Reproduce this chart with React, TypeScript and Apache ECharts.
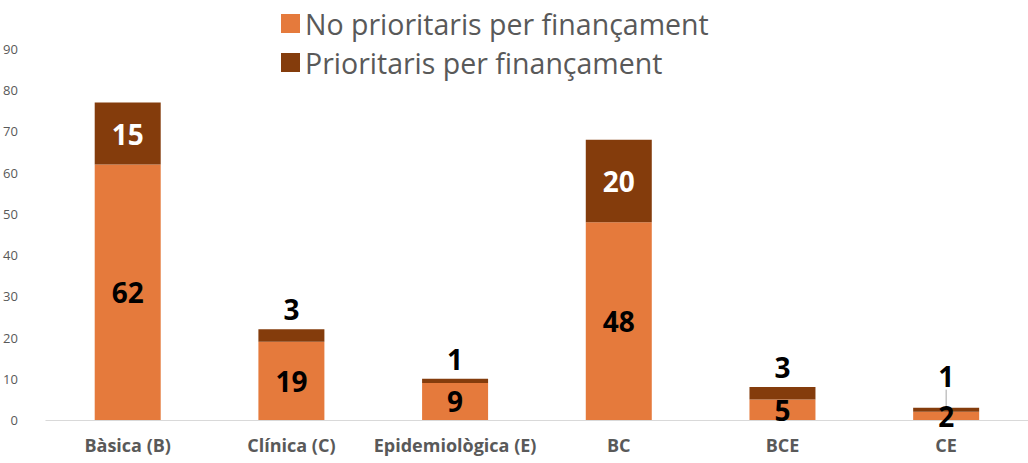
import React, { useEffect, useRef } from "react";
import * as echarts from "echarts";

const categories = ["Bàsica (B)", "Clínica (C)", "Epidemiològica (E)", "BC", "BCE", "CE"];
const noPrioritaris = [62, 19, 9, 48, 5, 2];
const prioritaris = [15, 3, 1, 20, 3, 1];
const seriesNames = ["No prioritaris per finançament", "Prioritaris per finançament"];

const FONT = "'Open Sans', sans-serif";

export default function App() {
  const ref = useRef<HTMLDivElement>(null);
  useEffect(() => {
    if (!ref.current) return;
    const chart = echarts.init(ref.current, null, { renderer: "svg" });
    const labelBase = { color: "#000", fontWeight: "bold" as const, fontSize: 28, fontFamily: FONT };
    chart.setOption({
      animation: false,
      textStyle: { fontFamily: FONT },
      legend: {
        orient: "vertical",
        left: 276,
        top: 4,
        itemWidth: 19,
        itemHeight: 19,
        itemGap: 10,
        icon: "rect",
        textStyle: { fontSize: 28.5, color: "#595959", fontFamily: FONT },
        data: seriesNames,
      },
      grid: { left: 40, width: 1000, top: 49, bottom: 43, containLabel: false },
      xAxis: {
        type: "category",
        data: categories,
        axisLine: { lineStyle: { color: "#d9d9d9", width: 1 } },
        axisTick: { show: false },
        axisLabel: { interval: 0, color: "#595959", fontSize: 18, fontWeight: "bold", margin: 16, fontFamily: FONT },
      },
      yAxis: {
        type: "value",
        min: 0,
        max: 90,
        interval: 10,
        splitLine: { show: false },
        axisLine: { show: false },
        axisTick: { show: false },
        axisLabel: { color: "#595959", fontSize: 13, margin: 28, fontFamily: FONT },
      },
      series: [
        {
          name: seriesNames[0],
          type: "bar",
          stack: "total",
          barWidth: 66,
          itemStyle: { color: "#E57A3C" },
          label: { show: true, position: "inside", ...labelBase },
          data: noPrioritaris,
        },
        {
          name: seriesNames[1],
          type: "bar",
          stack: "total",
          barWidth: 66,
          itemStyle: { color: "#843C0C" },
          label: { show: true, position: "inside", ...labelBase, color: "#fff" },
          labelLayout: (p: any) => (categories[p.dataIndex] === "CE" ? { dy: -12 } : {}),
          data: prioritaris.map((v, i) => {
            if (v >= 10) return v;
            const isCE = categories[i] === "CE";
            return {
              value: v,
              label: { position: "top", distance: 6, color: "#000" },
              labelLine: { show: isCE, lineStyle: { color: "#a6a6a6", width: 1 } },
            };
          }),
        },
      ],
    });
    return () => chart.dispose();
  }, []);
  return <div ref={ref} style={{ position: "absolute", left: 0, top: 0, width: 1028, height: 463 }} />;
}
